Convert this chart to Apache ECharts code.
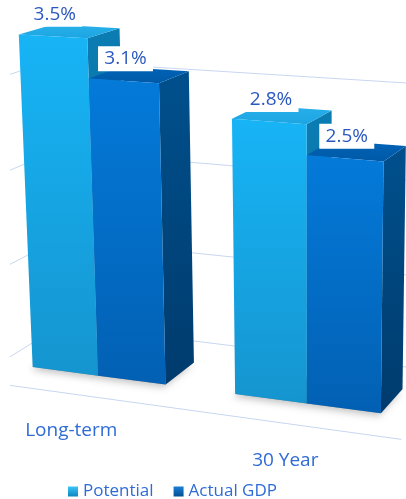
<!DOCTYPE html>
<html><head><meta charset="utf-8">
<script src="https://cdn.jsdelivr.net/npm/echarts@6/dist/echarts.min.js"></script>
<style>html,body{margin:0;padding:0;background:#fff}#chart{width:406px;height:499px}</style>
</head><body><div id="chart"></div>
<script>
// Growth rates (%)
const categories = ['Long-term', '30 Year'];
const potentialGrowth = [3.5, 2.8];
const actualGdpGrowth = [3.1, 2.5];
const valueTicks = [0, 1, 2, 3, 4];

// Perspective camera: maps a grid point (u, v) plus a depth z (bar depth = 1) to the screen.
const CAMERA = [
  [1.01498, 0.0353114, 36.0569, -27.0989],
  [0.0501547, 0.800874, -8.83110, -17.8328],
  [-0.000234429, 0.000113291, 0.0375091, 1]
];
const FLOOR_FRONT = -0.8, BACK_WALL = 1.9;

function project(p, z) {
  const M = CAMERA;
  const w = M[2][0] * p[0] + M[2][1] * p[1] + M[2][2] * z + M[2][3];
  return [
    (M[0][0] * p[0] + M[0][1] * p[1] + M[0][2] * z + M[0][3]) / w,
    (M[1][0] * p[0] + M[1][1] * p[1] + M[1][2] * z + M[1][3]) / w
  ];
}
// point on the flat grid: category band centre shifted by s bar widths (3 bar widths per band)
function flat(api, cat, s, val) {
  const c = api.coord([cat, val]);
  const bw = api.size([1, 0])[0] / 3;
  return [c[0] + s * bw, c[1]];
}

const G = echarts.graphic;
const grad = (a, b) => new G.LinearGradient(0, 0, 0, 1, [{offset: 0, color: a}, {offset: 1, color: b}]);
const palettes = [
  {front: ['#17b4f6', '#1595cf'], top: ['#28b0ea', '#1ca5e2'], side: ['#0b7db3', '#0a6596'], legend: ['#3cc4f7', '#0f86c0']},
  {front: ['#047ad9', '#0260b3'], top: ['#0063b7', '#0059a8'], side: ['#00508d', '#003b6d'], legend: ['#1a7fd6', '#024f93']}
];
const lineStyle = {stroke: '#c8d6f0', lineWidth: 1};
const seg = (a, b) => ({type: 'line', shape: {x1: a[0], y1: a[1], x2: b[0], y2: b[1]}, style: lineStyle});
const LABEL_FONT = '19px "Open Sans", sans-serif';

function barSeries(name, values, k) {
  return {
    type: 'custom', name, clip: false, z: 2,
    data: values.map((v, i) => [i, v]),
    itemStyle: {color: palettes[k].front[0]},
    renderItem(params, api) {
      const cat = api.value(0), val = api.value(1);
      const s0 = k === 0 ? -1 : 0, s1 = s0 + 1;
      const P = (s, y, z) => project(flat(api, cat, s, y), z);
      const fBL = P(s0, 0, 0), fBR = P(s1, 0, 0), fTL = P(s0, val, 0), fTR = P(s1, val, 0);
      const bBL = P(s0, 0, 1), bBR = P(s1, 0, 1), bTL = P(s0, val, 1), bTR = P(s1, val, 1);
      const pal = palettes[k];
      // value label in a white box above the middle of the bar's front top edge
      const top = P(s0 + 0.5, val, 0);
      const cx = top[0] + 2, cy = top[1] - 22;
      return {type: 'group', children: [
        {type: 'polygon', shape: {points: [fBL, fBR, bBR, bBL]},
          style: {fill: 'rgba(90,90,90,0.5)', shadowBlur: 7, shadowColor: 'rgba(0,0,0,0.45)', shadowOffsetX: -2, shadowOffsetY: 3}},
        {type: 'polygon', shape: {points: [fBR, bBR, bTR, fTR]}, style: {fill: grad(pal.side[0], pal.side[1])}},
        {type: 'polygon', shape: {points: [fTL, fTR, bTR, bTL]}, style: {fill: grad(pal.top[0], pal.top[1])}},
        {type: 'polygon', shape: {points: [fBL, fBR, fTR, fTL]}, style: {fill: grad(pal.front[0], pal.front[1])}},
        {type: 'rect', z2: 50, shape: {x: cx - 27.5, y: cy - 12.5, width: 55, height: 25}, style: {fill: '#fff'}},
        {type: 'text', z2: 51, style: {x: cx, y: cy, text: val.toFixed(1) + '%', font: LABEL_FONT, fill: '#2a58c0', align: 'center', verticalAlign: 'middle'}}
      ]};
    }
  };
}

const chart = echarts.init(document.getElementById('chart'), null, {renderer: 'canvas'});
chart.setOption({
  animation: false,
  grid: {left: 10, right: 0, top: 0, bottom: 0},
  xAxis: {type: 'category', data: categories, show: false},
  yAxis: {type: 'value', min: 0, max: 4, interval: 1, show: false},
  legend: {
    left: 63, top: 478, itemWidth: 10, itemHeight: 10, itemGap: 20,
    textStyle: {fontFamily: 'Open Sans', fontSize: 17, color: '#2f6bd6'},
    data: [
      {name: 'Potential', icon: 'rect', itemStyle: {color: grad(palettes[0].legend[0], palettes[0].legend[1])}},
      {name: 'Actual GDP', icon: 'rect', itemStyle: {color: grad(palettes[1].legend[0], palettes[1].legend[1])}}
    ]
  },
  series: [
    // walls and floor: gridlines on the left and back walls, front edge of the floor
    {
      type: 'custom', clip: true, z: 1, silent: true,
      data: valueTicks.map(t => [0, t]),
      renderItem(params, api) {
        const t = api.value(1);
        const L = flat(api, 0, -1.5, t), R = flat(api, 1, 1.5, t);
        const kids = [
          seg(project(L, FLOOR_FRONT), project(L, BACK_WALL)),
          seg(project(L, BACK_WALL), project(R, BACK_WALL))
        ];
        if (t === 0) kids.push(seg(project(L, FLOOR_FRONT), project(R, FLOOR_FRONT)));
        return {type: 'group', children: kids};
      }
    },
    // category labels along the floor edge
    {
      type: 'custom', clip: true, z: 1, silent: true,
      data: categories.map((c, i) => [i, 0]),
      renderItem(params, api) {
        const i = api.value(0);
        const p = project(flat(api, i, 0, 0), FLOOR_FRONT);
        return {type: 'text', x: p[0] - 1, y: p[1] + 37,
          style: {text: categories[i], font: '19px "Open Sans"', fill: '#2f6bd6', align: 'center', verticalAlign: 'middle'}};
      }
    },
    barSeries('Potential', potentialGrowth, 0),
    barSeries('Actual GDP', actualGdpGrowth, 1)
  ]
});
</script></body></html>
